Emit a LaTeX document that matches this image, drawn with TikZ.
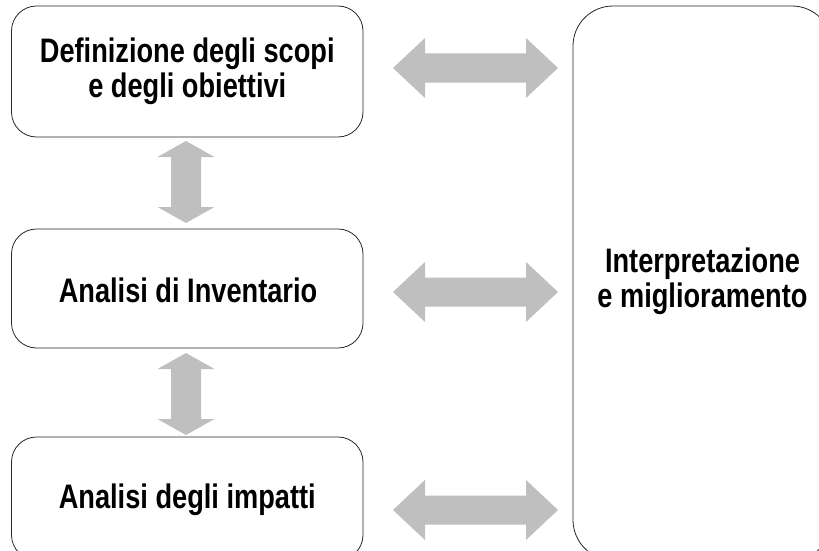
\documentclass[tikz,border=0pt]{standalone}
\usepackage{fontspec}
\newfontfamily\lab[FakeStretch=0.8]{Liberation Sans}
\begin{document}
\begin{tikzpicture}[x=1pt,y=-1pt,
  txt/.style={inner sep=0pt, align=center, font=\lab\bfseries\fontsize{34}{35}\selectfont},
  box/.style={draw=black!85, line width=0.8pt, rounded corners=25pt, fill=white, inner sep=0pt},
  bigbox/.style={box, rounded corners=40pt},
  arr/.style={fill=black!25, draw=none}]
\useasboundingbox (0,0) rectangle (819,551);
\clip (0,0) rectangle (819,551);
\node[box, minimum width=351.5pt, minimum height=131pt] (d) at (187.25,71.5) {};
\node[txt] (dt) at (d.center) {Definizione degli scopi\\e degli obiettivi};
\node[box, minimum width=351.5pt, minimum height=119pt] (a) at (187.25,288.5) {};
\node[txt] (at) at (188,290) {Analisi di Inventario};
\node[box, minimum width=351.5pt, minimum height=123pt] (i) at (187.25,498.5) {};
\node[txt] (it) at (187.25,500) {Analisi degli impatti};
\node[bigbox, minimum width=259pt, minimum height=554pt] (r) at (702.5,283) {};
\node[txt] (rt) at (702.5,281) {Interpretazione\\e miglioramento};
% horizontal double arrows
\foreach \cy in {68,292,510}{
  \fill[arr] (393,\cy) -- (425,\cy-30) -- (425,\cy-14.5) -- (526,\cy-14.5) -- (526,\cy-30)
    -- (558,\cy) -- (526,\cy+30) -- (526,\cy+14.5) -- (425,\cy+14.5) -- (425,\cy+30) -- cycle;
}
% vertical double arrows
\foreach \ty/\by in {141/223,353/435}{
  \fill[arr] (186,\ty) -- (214.5,\ty+16) -- (201,\ty+16) -- (201,\by-16) -- (214.5,\by-16)
    -- (186,\by) -- (157.5,\by-16) -- (171,\by-16) -- (171,\ty+16) -- (157.5,\ty+16) -- cycle;
}
\end{tikzpicture}
\end{document}
